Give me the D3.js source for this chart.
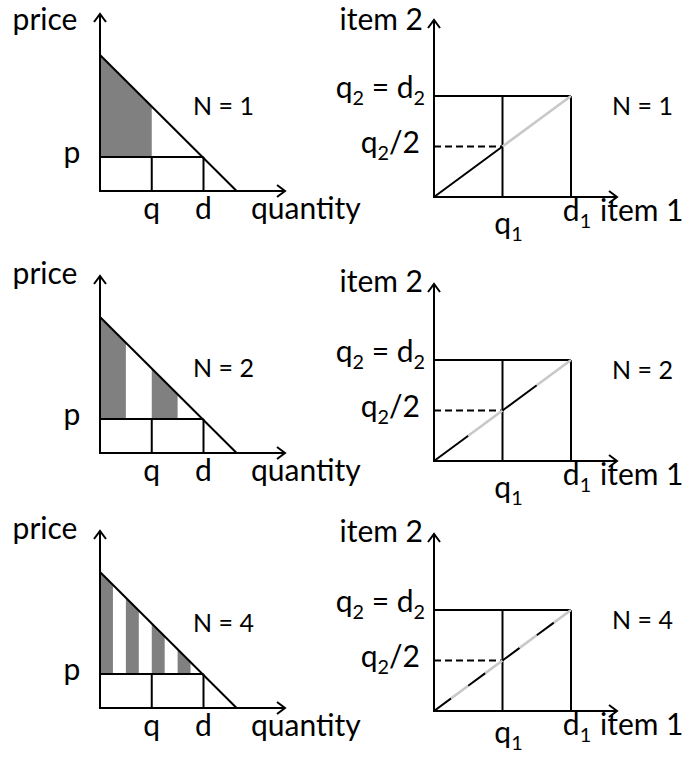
<!DOCTYPE html>
<html>
<head>
<meta charset="utf-8">
<script src="https://cdn.jsdelivr.net/npm/d3@7"></script>
<style>
  body { margin: 0; background: #fff; }
  svg text { font-family: Lato, "Open Sans", sans-serif; fill: #000; }
</style>
</head>
<body>
<svg width="685" height="757"></svg>
<script>
// ---- data ----
const panelN = [1, 2, 4];                 // number of bundles per row
const demandQuantity = [0, 2.64];         // demand line end points (quantity)
const demandPrice = [1, 0];               // demand line end points (price)
const priceLevel = 0.25;                  // p
const quantityTicks = [1, 2];             // q, d
const quantityLabels = ['q', 'd'];
const item1Ticks = [0.5, 1];              // q1, d1
const item1Labels = [[['q'], ['1', 'sub']], [['d'], ['1', 'sub']]];
const item2Ticks = [1, 0.5];              // q2 = d2, q2/2
const item2Labels = [[['q'], ['2', 'sub'], [' = d'], ['2', 'sub']], [['q'], ['2', 'sub'], ['/2']]];

// ---- layout ----
const svg = d3.select('svg');
const leftX = 100, rightX = 434;
const leftRowY = [191, 453, 708];
const rightRowY = [197, 461, 711];
const bigFont = 30, smallFont = 25;

// scales (local coordinates, origin at the axes corner)
const xQ = d3.scaleLinear().domain([0, 2]).range([0, 103.5]);
const yP = d3.scaleLinear().domain([0, 1]).range([0, -136]);
const x1 = d3.scaleLinear().domain([0, 1]).range([0, 137]);
const y2 = d3.scaleLinear().domain([0, 1]).range([0, -101]);

const demandAt = q => demandPrice[0] + (demandPrice[1] - demandPrice[0]) * (q - demandQuantity[0]) / (demandQuantity[1] - demandQuantity[0]);

// arrow head marker
svg.append('defs').append('marker')
    .attr('id', 'arrow')
    .attr('viewBox', '-10 -8 12 16')
    .attr('markerWidth', 12).attr('markerHeight', 16)
    .attr('markerUnits', 'userSpaceOnUse')
    .attr('orient', 'auto')
    .append('path')
    .attr('d', 'M-8,-6 L0,0 L-8,6')
    .attr('fill', 'none').attr('stroke', '#000').attr('stroke-width', 2);

function label(g, parts, x, y, anchor, size) {
    const t = g.append('text')
        .attr('x', x).attr('y', y)
        .attr('text-anchor', anchor)
        .style('font-size', size + 'px');
    let shifted = false;
    parts.forEach(p => {
        const s = t.append('tspan').text(p[0]);
        if (p[1] === 'sub') {
            s.style('font-size', (size * 0.66) + 'px').attr('dy', 7);
            shifted = true;
        } else if (shifted) {
            s.attr('dy', -7);
            shifted = false;
        }
    });
    return t;
}

function line(g, xa, ya, xb, yb, opts = {}) {
    const l = g.append('line')
        .attr('x1', xa).attr('y1', ya).attr('x2', xb).attr('y2', yb)
        .attr('stroke', opts.color || '#000')
        .attr('stroke-width', opts.width || 2);
    if (opts.dash) l.attr('stroke-dasharray', opts.dash);
    if (opts.arrow) l.attr('marker-end', 'url(#arrow)');
    return l;
}

panelN.forEach(function (n, i) {
    // ---------- left panel: demand curve ----------
    const g = svg.append('g').attr('transform', `translate(${leftX},${leftRowY[i]})`);
    const dVal = quantityTicks[1];
    const step = dVal / n;

    // shaded slices: first half of every interval
    d3.range(n).forEach(k => {
        const a = k * step, b = a + step / 2;
        g.append('path')
            .attr('d', d3.line()([
                [xQ(a), yP(priceLevel)], [xQ(a), yP(demandAt(a))],
                [xQ(b), yP(demandAt(b))], [xQ(b), yP(priceLevel)]
            ]) + 'Z')
            .attr('fill', '#808080');
    });

    // p line and q, d drops
    line(g, xQ(0), yP(priceLevel), xQ(dVal), yP(priceLevel));
    quantityTicks.forEach(v => line(g, xQ(v), 0, xQ(v), yP(priceLevel)));
    // demand line
    line(g, xQ(demandQuantity[0]), yP(demandPrice[0]), xQ(demandQuantity[1]), yP(demandPrice[1]));
    // axes
    line(g, 0, 1, 0, -177, { arrow: true });
    line(g, -1, 0, 185, 0, { arrow: true });

    label(g, [['price']], -55, Math.max(-169, 30 - leftRowY[i]), 'middle', bigFont);
    label(g, [['p']], -28, yP(priceLevel) + 6, 'middle', bigFont);
    quantityTicks.forEach((v, j) => label(g, [[quantityLabels[j]]], xQ(v), 28, 'middle', bigFont));
    label(g, [['quantity']], 151, 28, 'start', bigFont);
    label(g, [['N = ' + n]], 93, -76, 'start', smallFont);

    // ---------- right panel: bundle space ----------
    const h = svg.append('g').attr('transform', `translate(${rightX},${rightRowY[i]})`);
    // box and q1 vertical
    line(h, x1(0), y2(1), x1(1), y2(1));
    item1Ticks.forEach(v => line(h, x1(v), 0, x1(v), y2(1)));
    // dashed guide at q2/2
    line(h, x1(0), y2(0.5), x1(0.5), y2(0.5), { dash: '7,4', width: 1.8 });

    // diagonal segments: black / grey alternating
    const segs = 2 * n;
    d3.range(segs).forEach(k => {
        const a = k / segs, b = (k + 1) / segs;
        line(h, x1(a), y2(a), x1(b), y2(b), {
            color: k % 2 === 0 ? '#000' : '#c8c8c8',
            width: k % 2 === 0 ? 2 : 2.6
        });
    });

    line(h, 0, 1, 0, -177, { arrow: true });
    line(h, -1, 0, 183, 0, { arrow: true });

    label(h, [['item 2']], -11, Math.max(-169, 30 - rightRowY[i]), 'end', bigFont);
    item2Ticks.forEach((v, j) => label(h, item2Labels[j], j === 0 ? -9 : -14, y2(v) + (j === 0 ? 2 : 6), 'end', bigFont));
    label(h, [['N = ' + n]], 178, -82, 'start', smallFont);
    label(h, item1Labels[0], x1(item1Ticks[0]) + 6, Math.min(37, 743 - rightRowY[i]), 'middle', bigFont);
    label(h, item1Labels[1], x1(item1Ticks[1]) + 6, 24, 'middle', bigFont);
    label(h, [['item 1']], 166, 24, 'start', bigFont);
});
</script>
</body>
</html>
